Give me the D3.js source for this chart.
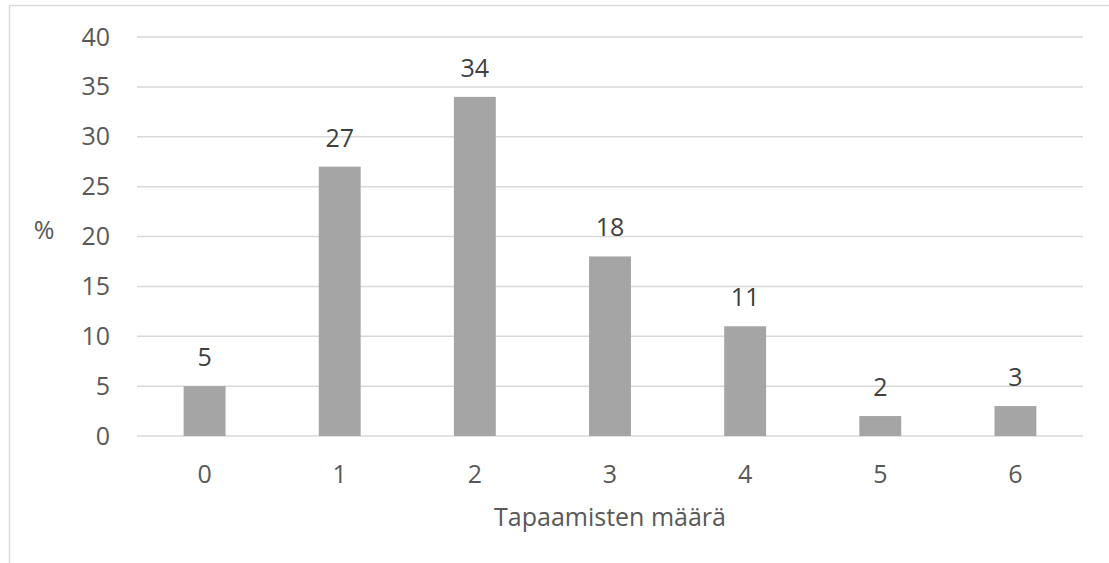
<!DOCTYPE html>
<html lang="fi">
<head>
    <meta charset="UTF-8">
    <title>Tapaamisten määrä</title>
    <script src="https://d3js.org/d3.v7.min.js"></script>
    <style>
        body { margin: 0; background: #fff; }
        text { font-family: "Open Sans", sans-serif; }
    </style>
</head>
<body>
    <svg id="chart" width="1109" height="563"></svg>
    <script>
        // data
        const categories = ["0", "1", "2", "3", "4", "5", "6"];
        const values = [5, 27, 34, 18, 11, 2, 3];
        const yTicks = [0, 5, 10, 15, 20, 25, 30, 35, 40];
        const xTitle = "Tapaamisten määrä";
        const yTitle = "%";

        const svg = d3.select("#chart");
        const margin = { top: 37, right: 26, bottom: 127, left: 137 };
        const width = +svg.attr("width");
        const height = +svg.attr("height");
        const plotW = width - margin.left - margin.right;
        const plotH = height - margin.top - margin.bottom;
        const fs = "25px";

        // chart frame (runs off the right and bottom edges)
        svg.append("rect")
            .attr("x", 9.5).attr("y", 5.5)
            .attr("width", width + 20).attr("height", height + 20)
            .attr("fill", "none")
            .attr("stroke", "#d9d9d9")
            .attr("stroke-width", 1.5);

        const g = svg.append("g")
            .attr("transform", "translate(" + margin.left + "," + margin.top + ")");

        const x = d3.scaleBand()
            .domain(categories)
            .range([0, plotW])
            .paddingInner(0.69)
            .paddingOuter(0.345);

        const y = d3.scaleLinear()
            .domain([0, 40])
            .range([plotH, 0]);

        // gridlines
        g.selectAll(".grid")
            .data(yTicks)
            .join("line")
            .attr("class", "grid")
            .attr("x1", 0).attr("x2", plotW)
            .attr("y1", d => y(d)).attr("y2", d => y(d))
            .attr("stroke", "#d9d9d9")
            .attr("stroke-width", 1.5);

        // y axis labels
        const yAxis = g.append("g")
            .call(d3.axisLeft(y).tickValues(yTicks).tickSize(0).tickPadding(27));
        yAxis.select(".domain").remove();
        yAxis.selectAll("text")
            .attr("fill", "#595959")
            .style("font-size", fs);

        // x axis labels
        const xAxis = g.append("g")
            .attr("transform", "translate(0," + plotH + ")")
            .call(d3.axisBottom(x).tickSize(0).tickPadding(29));
        xAxis.select(".domain").remove();
        xAxis.selectAll("text")
            .attr("fill", "#595959")
            .style("font-size", fs);

        // bars
        g.selectAll(".bar")
            .data(values)
            .join("rect")
            .attr("class", "bar")
            .attr("x", (d, i) => x(categories[i]))
            .attr("width", x.bandwidth())
            .attr("y", d => y(d))
            .attr("height", d => plotH - y(d))
            .attr("fill", "#a5a5a5");

        // data labels
        g.selectAll(".lbl")
            .data(values)
            .join("text")
            .attr("class", "lbl")
            .attr("x", (d, i) => x(categories[i]) + x.bandwidth() / 2)
            .attr("y", d => y(d) - 20)
            .attr("text-anchor", "middle")
            .attr("fill", "#404040")
            .style("font-size", fs)
            .text(d => d);

        // axis titles
        g.append("text")
            .attr("x", plotW / 2)
            .attr("y", plotH + 90)
            .attr("text-anchor", "middle")
            .attr("fill", "#595959")
            .style("font-size", fs)
            .text(xTitle);

        svg.append("text")
            .attr("x", 44)
            .attr("y", 239)
            .attr("text-anchor", "middle")
            .attr("fill", "#595959")
            .style("font-size", fs)
            .text(yTitle);
    </script>
</body>
</html>
